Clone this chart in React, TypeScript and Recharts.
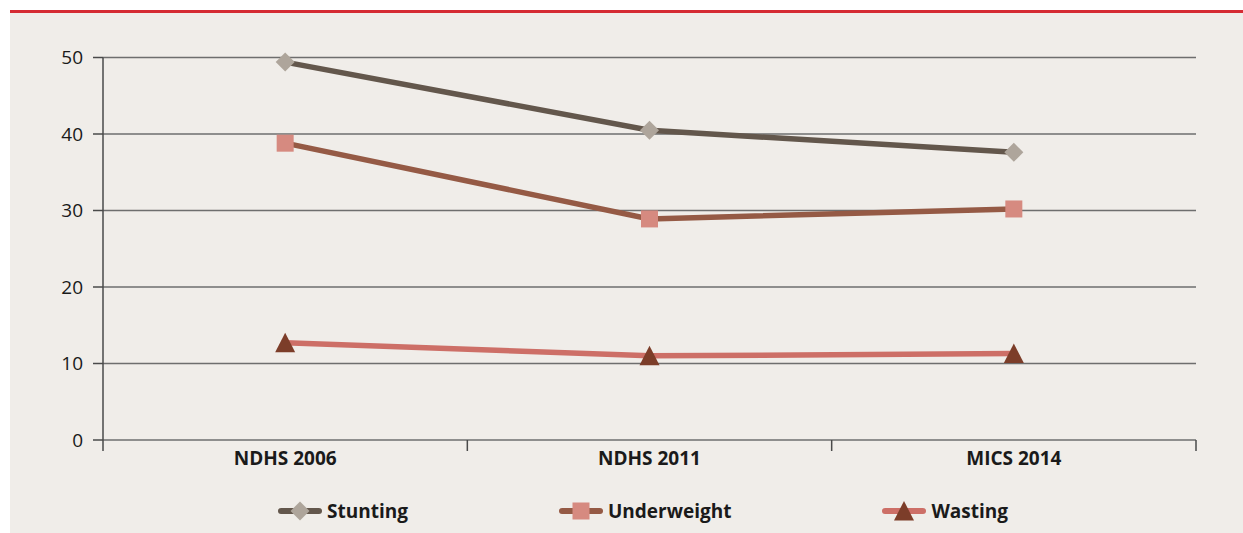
import {
  LineChart,
  Line,
  XAxis,
  YAxis,
  CartesianGrid,
  Legend,
} from 'recharts';

const categories = ['NDHS 2006', 'NDHS 2011', 'MICS 2014'];
const stunting = [49.4, 40.5, 37.6];
const underweight = [38.8, 28.9, 30.2];
const wasting = [12.7, 11.0, 11.3];
const yTicks = [0, 10, 20, 30, 40, 50];

const seriesNames = ['Stunting', 'Underweight', 'Wasting'];
const lineColors = ['#63574c', '#955a45', '#cd6f67'];
const markerColors = ['#aea59b', '#d68a80', '#7c3d29'];
const markerKinds = ['diamond', 'square', 'triangle'];

const FONT = '"Open Sans", "Noto Sans", sans-serif';
const TICK_MARGIN = 12;

const data = categories.map((name, i) => ({
  name,
  Stunting: stunting[i],
  Underweight: underweight[i],
  Wasting: wasting[i],
}));

function Marker({ kind, cx, cy, fill }: { kind: string; cx: number; cy: number; fill: string }) {
  if (kind === 'diamond') {
    const r = 9.5;
    return <polygon points={`${cx},${cy - r} ${cx + r},${cy} ${cx},${cy + r} ${cx - r},${cy}`} fill={fill} />;
  }
  if (kind === 'square') {
    const s = 8.5;
    return <rect x={cx - s} y={cy - s} width={s * 2} height={s * 2} fill={fill} />;
  }
  const w = 10;
  return <polygon points={`${cx},${cy - 10} ${cx + w},${cy + 9.5} ${cx - w},${cy + 9.5}`} fill={fill} />;
}

function makeDot(idx: number) {
  return (p: any) => (
    <Marker key={`${idx}-${p.index}`} kind={markerKinds[idx]} cx={p.cx} cy={p.cy} fill={markerColors[idx]} />
  );
}

// category label plus tick marks on the band boundaries
function CategoryTick(props: any) {
  const { x, y, payload, index, visibleTicksCount } = props;
  const half = payload.offset || 0;
  const axisY = y - TICK_MARGIN;
  const tickStyle = { stroke: '#4a4a4a', strokeWidth: 1.5 };
  return (
    <g>
      <line x1={x - half} x2={x - half} y1={axisY} y2={axisY + 11} {...tickStyle} />
      {index === visibleTicksCount - 1 && (
        <line x1={x + half} x2={x + half} y1={axisY} y2={axisY + 11} {...tickStyle} />
      )}
      <text
        x={x}
        y={y}
        dy="0.71em"
        textAnchor="middle"
        fill="#1a1a1a"
        fontSize={19}
        fontWeight={700}
        fontFamily={FONT}
      >
        {payload.value}
      </text>
    </g>
  );
}

function LegendContent() {
  return (
    <div
      style={{
        height: 28,
        display: 'flex',
        justifyContent: 'center',
        alignItems: 'center',
        gap: 150,
        fontFamily: FONT,
        fontWeight: 700,
        fontSize: 19,
        color: '#1a1a1a',
      }}
    >
      {seriesNames.map((name, i) => (
        <div key={name} style={{ display: 'flex', alignItems: 'center', gap: 4 }}>
          <svg width={46} height={22}>
            <line x1={4} x2={42} y1={11} y2={11} stroke={lineColors[i]} strokeWidth={6} strokeLinecap="round" />
            <Marker kind={markerKinds[i]} cx={23} cy={11} fill={markerColors[i]} />
          </svg>
          <span>{name}</span>
        </div>
      ))}
    </div>
  );
}

export default function App() {
  return (
    <div
      style={{
        position: 'absolute',
        left: 10,
        top: 10,
        width: 1233,
        height: 523,
        background: '#f0ede9',
        borderTop: '3px solid #d52b33',
        boxSizing: 'border-box',
      }}
    >
      <LineChart
        width={1233}
        height={520}
        data={data}
        margin={{ top: 44.5, right: 47, left: 0, bottom: 8 }}
        style={{ fontFamily: FONT }}
      >
        <CartesianGrid vertical={false} stroke="#6e6e6e" strokeWidth={1.5} />
        <XAxis
          dataKey="name"
          scale="band"
          height={57}
          interval={0}
          axisLine={false}
          tickLine={false}
          tickSize={0}
          tickMargin={TICK_MARGIN}
          tick={<CategoryTick />}
        />
        <YAxis
          width={93}
          domain={[0, 50]}
          ticks={yTicks}
          interval={0}
          tickSize={10}
          tickMargin={10}
          axisLine={{ stroke: '#4a4a4a', strokeWidth: 1.5 }}
          tickLine={{ stroke: '#4a4a4a', strokeWidth: 1.5 }}
          tick={{ fill: '#1a1a1a', fontSize: 19, fontFamily: FONT }}
        />
        <Legend
          verticalAlign="bottom"
          content={<LegendContent />}
          wrapperStyle={{ left: 86, width: 1093 }}
        />
        {seriesNames.map((name, i) => (
          <Line
            key={name}
            dataKey={name}
            stroke={lineColors[i]}
            strokeWidth={5.5}
            dot={makeDot(i)}
            activeDot={false}
            isAnimationActive={false}
          />
        ))}
      </LineChart>
    </div>
  );
}
